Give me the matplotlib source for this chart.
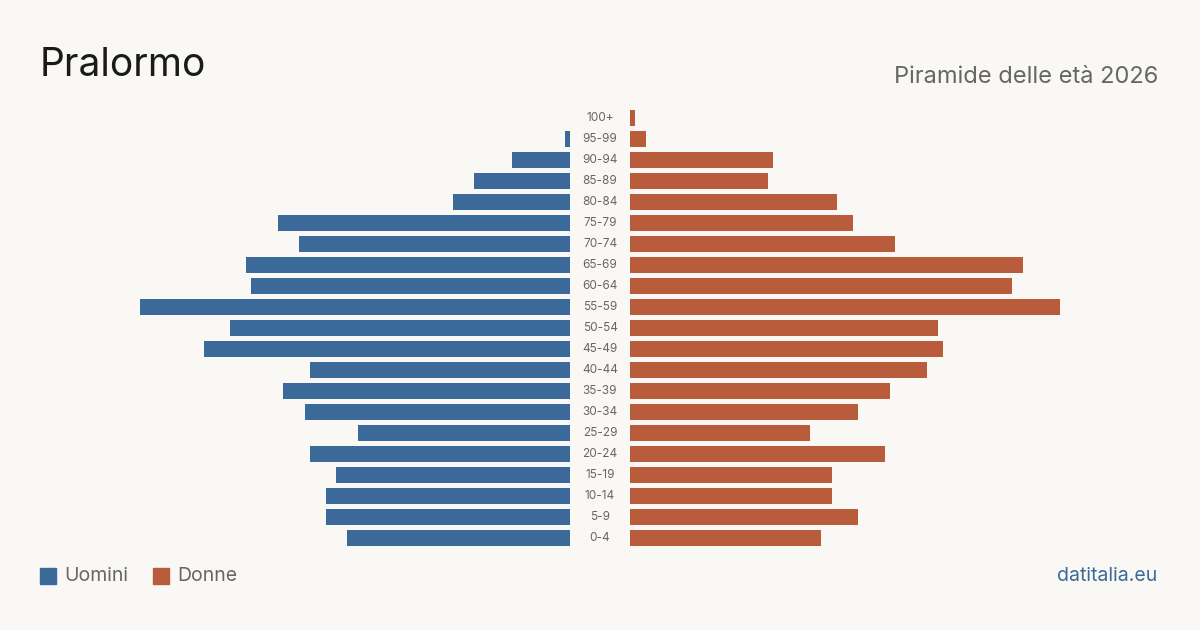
import matplotlib
matplotlib.use("Agg")
import matplotlib.pyplot as plt
from matplotlib.patches import Rectangle

age_groups = ["0-4", "5-9", "10-14", "15-19", "20-24", "25-29", "30-34", "35-39",
              "40-44", "45-49", "50-54", "55-59", "60-64", "65-69", "70-74", "75-79",
              "80-84", "85-89", "90-94", "95-99", "100+"]
men = [42, 46, 46, 44, 49, 40, 50, 54, 49, 69, 64, 81, 60, 61, 51, 55, 22, 18, 11, 1, 0]
women = [36, 43, 38, 38, 48, 34, 43, 49, 56, 59, 58, 81, 72, 74, 50, 42, 39, 26, 27, 3, 1]

title = "Pralormo"
subtitle = "Piramide delle età 2026"
legend_labels = ["Uomini", "Donne"]
source = "datitalia.eu"

BG = "#f9f8f4"
BLUE = "#3b6a9a"
ORANGE = "#b95c3c"
GRAY = "#666666"

plt.rcParams["font.family"] = ["Inter", "DejaVu Sans"]

W, H = 1200, 630
fig = plt.figure(figsize=(W / 100, H / 100), dpi=100, facecolor=BG)

xmax = max(max(men), max(women))
y_top_px, y_bot_px = 107.5, 548.5
bottom = 1 - y_bot_px / H
height = (y_bot_px - y_top_px) / H

axL = fig.add_axes([140 / W, bottom, 430 / W, height])
axR = fig.add_axes([630 / W, bottom, 430 / W, height])
ypos = list(range(len(age_groups)))
for ax, vals, col in ((axL, men, BLUE), (axR, women, ORANGE)):
    ax.barh(ypos, vals, height=0.8, color=col)
    ax.set_ylim(-0.5, len(age_groups) - 0.5)
    ax.set_facecolor("none")
    ax.axis("off")
axL.set_xlim(xmax, 0)
axR.set_xlim(0, xmax)

# center labels
for i, lab in enumerate(age_groups):
    axR.annotate(lab, xy=(0, i), xycoords="data", xytext=(-30, 0),
                 textcoords="offset pixels", ha="center", va="center",
                 fontsize=8.5, color=GRAY)

fig.text(40 / W, 1 - 66 / H, title, fontsize=28, color="#1a1a1a",
         ha="left", va="center")
fig.text(1158 / W, 1 - 77 / H, subtitle, fontsize=17, color=GRAY,
         ha="right", va="center")

# legend
for x0, lab, col in ((40, legend_labels[0], BLUE), (153, legend_labels[1], ORANGE)):
    fig.patches.append(Rectangle((x0 / W, 1 - 584 / H), 16 / W, 16 / H,
                                 transform=fig.transFigure, color=col))
    fig.text((x0 + 24) / W, 1 - 576 / H, lab, fontsize=14, color=GRAY,
             ha="left", va="center")

fig.text(1157 / W, 1 - 576 / H, source, fontsize=14, color=BLUE,
         ha="right", va="center")

fig.savefig("out.png", dpi=100, facecolor=BG)
